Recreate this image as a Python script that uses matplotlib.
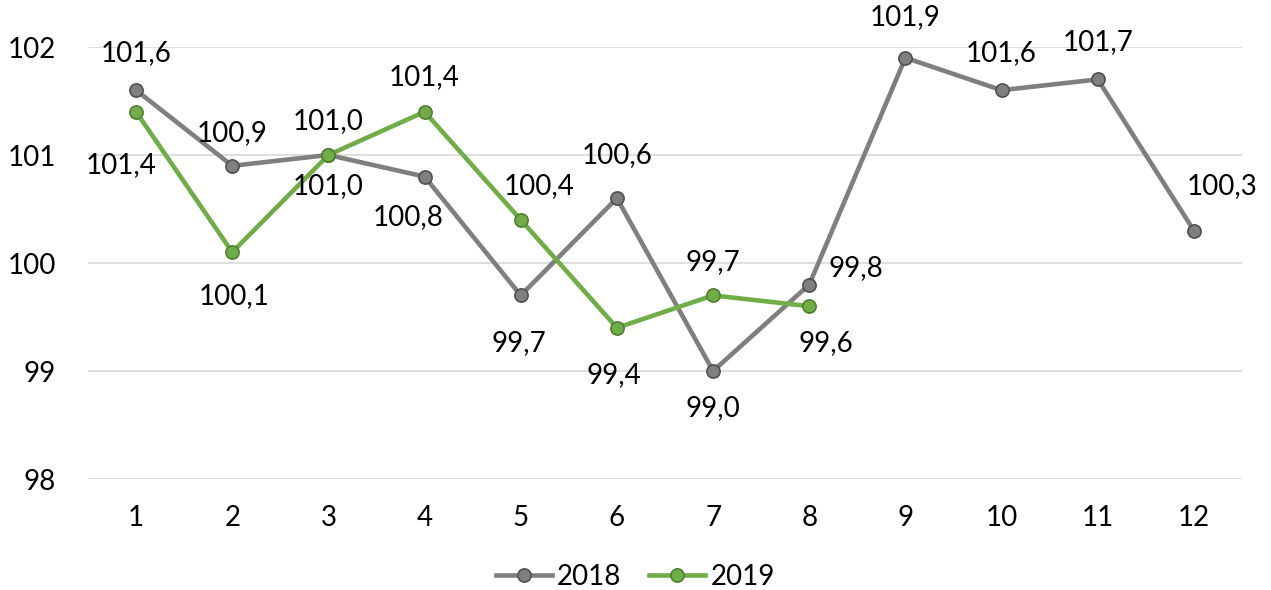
import matplotlib
matplotlib.use("Agg")
import matplotlib.pyplot as plt

months = [1, 2, 3, 4, 5, 6, 7, 8, 9, 10, 11, 12]
v2018 = [101.6, 100.9, 101.0, 100.8, 99.7, 100.6, 99.0, 99.8, 101.9, 101.6, 101.7, 100.3]
v2019 = [101.4, 100.1, 101.0, 101.4, 100.4, 99.4, 99.7, 99.6]
yticks = [98, 99, 100, 101, 102]

# label offsets in pixels (style only)
off2018 = [(0, 37), (0, 33), (0, 34), (-16, -40), (-2, -48), (0, 43), (0, -37),
           (47, 17), (0, 41), (0, 37), (0, 37), (28, 45)]
off2019 = [(-15, -53), (2, -44), (0, -31), (0, 35), (18, 34), (-3, -47), (0, 33), (17, -37)]

plt.rcParams['font.family'] = ['Lato', 'DejaVu Sans']
FS = 20

fig = plt.figure(figsize=(12.71, 5.90), dpi=100)
ax = fig.add_axes([88 / 1271, 111 / 590, (1242 - 88) / 1271, (479 - 47) / 590])

x = list(range(len(months)))
x19 = x[:len(v2019)]

ax.plot(x, v2018, color='#7f7f7f', lw=3.3, marker='o', ms=9.5,
        mfc='#7f7f7f', mec='#505050', mew=1.2, label='2018', zorder=3)
ax.plot(x19, v2019, color='#70ad47', lw=3.3, marker='o', ms=9.5,
        mfc='#70ad47', mec='#4f7f30', mew=1.2, label='2019', zorder=4)

def fmt(v):
    return f"{v:.1f}".replace('.', ',')

for xi, v, o in zip(x, v2018, off2018):
    ax.annotate(fmt(v), (xi, v), xytext=o, textcoords='offset pixels',
                ha='center', va='center', fontsize=FS, color='black', zorder=5)
for xi, v, o in zip(x19, v2019, off2019):
    ax.annotate(fmt(v), (xi, v), xytext=o, textcoords='offset pixels',
                ha='center', va='center', fontsize=FS, color='black', zorder=5)

ax.set_xlim(-0.5, len(months) - 0.5)
ax.set_ylim(98, 102)
ax.set_yticks(yticks)
ax.set_yticklabels([str(t) for t in yticks], fontsize=FS)
ax.set_xticks(x)
ax.set_xticklabels([str(m) for m in months], fontsize=FS)
ax.tick_params(axis='both', length=0)
ax.tick_params(axis='y', pad=23)
ax.tick_params(axis='x', pad=19)
ax.grid(axis='y', color='#d9d9d9', lw=1.2, zorder=0)
ax.set_axisbelow(True)
for s in ax.spines.values():
    s.set_visible(False)

fig.legend(loc='center', bbox_to_anchor=(0.5, 13 / 590), ncol=2, frameon=False,
           fontsize=FS, handlelength=2.0, handletextpad=0.2, columnspacing=1.0)

fig.savefig('out.png', dpi=100)
